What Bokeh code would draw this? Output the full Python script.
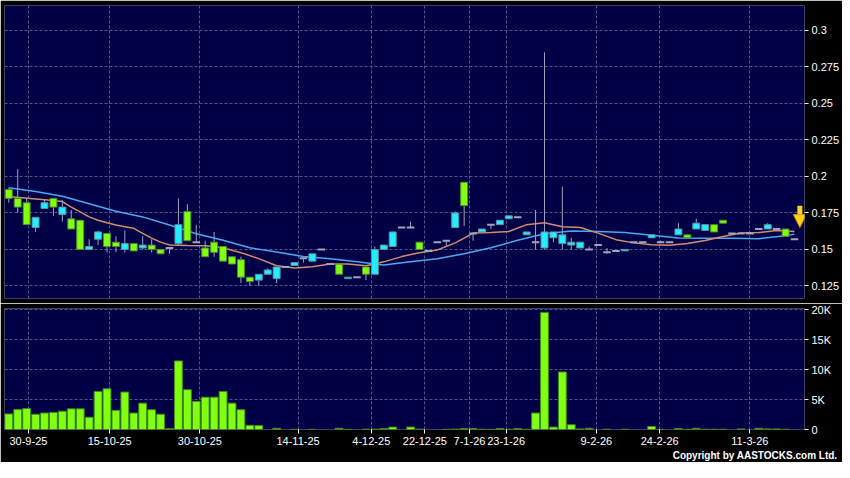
from bokeh.plotting import figure
from bokeh.layouts import column
from bokeh.models import (ColumnDataSource, FixedTicker, Range1d, Title, Arrow,
                          NormalHead, CustomJSTickFormatter)
from bokeh.embed import file_html
from bokeh.resources import INLINE

# ---------------- data ----------------
x_tick_labels = ["30-9-25", "15-10-25", "30-10-25", "14-11-25", "4-12-25", "22-12-25",
                 "7-1-26", "23-1-26", "9-2-26", "24-2-26", "11-3-26"]
x_tick_pos = [2.2, 11.3, 21.4, 32.4, 40.6, 46.6, 51.6, 55.7, 65.8, 72.9, 83.0]

price_ticks = [0.125, 0.15, 0.175, 0.2, 0.225, 0.25, 0.275, 0.3]
vol_ticks = [0, 5000, 10000, 15000, 20000]

open_ = [0.191, 0.185, 0.182, 0.165, 0.178, 0.185, 0.174, 0.171, 0.170, 0.150,
         0.157, 0.161, 0.155, 0.150, 0.154, 0.151, 0.153, 0.150, 0.151, 0.154,
         0.176, 0.155, 0.151, 0.155, 0.152, 0.145, 0.143, 0.131, 0.129, 0.133,
         0.130, 0.138, 0.139, 0.144, 0.142, 0.150, 0.140, 0.140, 0.130, 0.131,
         0.138, 0.133, 0.150, 0.152, 0.165, 0.165, 0.155, 0.149, 0.155, 0.156,
         0.165, 0.196, 0.161, 0.162, 0.167, 0.167, 0.171, 0.172, 0.160, 0.155,
         0.151, 0.158, 0.154, 0.153, 0.151, 0.150, 0.153, 0.148, 0.149, 0.149,
         0.155, 0.155, 0.158, 0.155, 0.155, 0.160, 0.160, 0.164, 0.163, 0.167,
         0.170, 0.161, 0.161, 0.161, 0.164, 0.164, 0.164, 0.164, 0.157]
high = [0.192, 0.205, 0.185, 0.172, 0.184, 0.185, 0.184, 0.177, 0.170, 0.157,
        0.163, 0.161, 0.159, 0.163, 0.154, 0.159, 0.157, 0.150, 0.151, 0.185,
        0.181, 0.167, 0.156, 0.162, 0.152, 0.145, 0.145, 0.131, 0.133, 0.137,
        0.138, 0.138, 0.141, 0.144, 0.147, 0.150, 0.140, 0.140, 0.131, 0.131,
        0.138, 0.152, 0.153, 0.162, 0.165, 0.169, 0.155, 0.149, 0.155, 0.156,
        0.176, 0.196, 0.161, 0.164, 0.167, 0.170, 0.173, 0.172, 0.162, 0.177,
        0.285, 0.162, 0.193, 0.158, 0.155, 0.152, 0.153, 0.151, 0.149, 0.150,
        0.155, 0.155, 0.160, 0.156, 0.155, 0.168, 0.160, 0.171, 0.167, 0.167,
        0.170, 0.161, 0.161, 0.161, 0.164, 0.168, 0.164, 0.164, 0.157]
low = [0.182, 0.175, 0.167, 0.162, 0.178, 0.173, 0.169, 0.164, 0.150, 0.150,
       0.153, 0.148, 0.148, 0.148, 0.149, 0.150, 0.148, 0.147, 0.147, 0.153,
       0.156, 0.155, 0.145, 0.145, 0.142, 0.140, 0.127, 0.125, 0.125, 0.133,
       0.127, 0.138, 0.139, 0.141, 0.142, 0.150, 0.140, 0.133, 0.130, 0.131,
       0.129, 0.133, 0.150, 0.152, 0.165, 0.165, 0.150, 0.149, 0.155, 0.152,
       0.165, 0.166, 0.156, 0.162, 0.164, 0.167, 0.171, 0.172, 0.160, 0.150,
       0.150, 0.155, 0.150, 0.150, 0.151, 0.150, 0.153, 0.147, 0.149, 0.149,
       0.155, 0.155, 0.158, 0.155, 0.155, 0.160, 0.158, 0.164, 0.163, 0.162,
       0.168, 0.161, 0.161, 0.161, 0.164, 0.164, 0.164, 0.159, 0.157]
close = [0.185, 0.179, 0.167, 0.172, 0.182, 0.179, 0.179, 0.164, 0.150, 0.152,
         0.162, 0.152, 0.152, 0.154, 0.149, 0.153, 0.150, 0.147, 0.151, 0.167,
         0.156, 0.155, 0.145, 0.148, 0.142, 0.140, 0.131, 0.128, 0.133, 0.136,
         0.138, 0.138, 0.141, 0.144, 0.147, 0.150, 0.140, 0.133, 0.131, 0.131,
         0.133, 0.150, 0.153, 0.162, 0.165, 0.165, 0.150, 0.149, 0.155, 0.156,
         0.175, 0.180, 0.161, 0.164, 0.167, 0.170, 0.173, 0.172, 0.162, 0.155,
         0.162, 0.162, 0.160, 0.155, 0.155, 0.150, 0.153, 0.148, 0.149, 0.150,
         0.155, 0.155, 0.160, 0.155, 0.155, 0.164, 0.158, 0.168, 0.167, 0.162,
         0.168, 0.161, 0.161, 0.161, 0.164, 0.167, 0.164, 0.159, 0.157]
volume = [2600, 3350, 3500, 2550, 2750, 2850, 3050, 3450, 3450, 2050,
          6350, 6800, 3200, 6250, 2750, 4400, 3300, 2550, 150, 11450,
          6650, 4700, 5400, 5400, 6350, 4400, 3300, 700, 650, 0,
          200, 0, 30, 0, 30, 0, 0, 200, 30, 0,
          50, 60, 150, 400, 0, 400, 60, 0, 0, 30,
          60, 150, 150, 40, 30, 150, 40, 150, 40, 2750,
          19550, 400, 9600, 800, 100, 200, 0, 50, 0, 40,
          0, 0, 500, 30, 0, 150, 40, 200, 40, 40,
          40, 0, 100, 0, 200, 100, 100, 40, 0]

ma_short_idx = [0, 3, 5, 6, 7, 8, 9, 10, 11, 12, 13, 14, 15, 16, 17, 18, 20, 22, 24, 26,
                28, 30, 32, 34, 36, 38, 40, 42, 44, 46, 48, 50, 51, 52, 54, 56, 58, 60,
                62, 64, 66, 68, 70, 72, 74, 76, 78, 80, 82, 84, 86, 88]
ma_short_val = [0.1862, 0.1846, 0.1835, 0.1828, 0.179, 0.1757, 0.1723, 0.170, 0.1683, 0.1667,
                0.1656, 0.1645, 0.161, 0.1578, 0.155, 0.153, 0.1527, 0.1525, 0.1511, 0.1478,
                0.1437, 0.1388, 0.1373, 0.1382, 0.140, 0.140, 0.1388, 0.1415, 0.1451, 0.1478,
                0.1496, 0.1545, 0.1578, 0.1612, 0.1616, 0.1623, 0.167, 0.1683, 0.1656, 0.165,
                0.1612, 0.1567, 0.1545, 0.1533, 0.1529, 0.154, 0.1562, 0.1589, 0.1612, 0.1616,
                0.1629, 0.1623]
ma_long_idx = [0, 3, 6, 9, 12, 15, 18, 21, 24, 27, 30, 33, 36, 39, 42, 45, 48, 51, 54,
               57, 60, 63, 66, 69, 72, 75, 78, 81, 84, 87, 88]
ma_long_val = [0.1922, 0.1897, 0.1864, 0.1813, 0.1761, 0.1723, 0.1667, 0.1607, 0.1563, 0.1511,
               0.1482, 0.1451, 0.1437, 0.1415, 0.1393, 0.1415, 0.1437, 0.1471, 0.1511, 0.1563,
               0.1607, 0.1627, 0.1623, 0.1616, 0.1598, 0.1578, 0.1576, 0.1576, 0.1574, 0.1594,
               0.1605]

# ---------------- styles ----------------
BG = "#000046"
GRID = "#55558c"
UP_FILL, UP_LINE = "#22eeff", "#5f8f9f"
DN_FILL, DN_LINE = "#80ff10", "#4b8a2e"
DOJI = "#a4a4b8"
WICK = "#a0a0bc"
MA_S, MA_L = "#d48c6c", "#48a8f0"
VOL_FILL, VOL_LINE = "#80ff10", "#3e8a1a"
FONT = "Liberation Sans"

n = len(close)
idx = list(range(n))
up = [i for i in idx if close[i] > open_[i]]
dn = [i for i in idx if close[i] < open_[i]]
fl = [i for i in idx if close[i] == open_[i]]

def body_src(sel):
    return ColumnDataSource(dict(
        x=[i for i in sel],
        top=[max(open_[i], close[i]) for i in sel],
        bottom=[min(open_[i], close[i]) for i in sel]))

XR = (-0.48, 89.12)
W, LB, RB = 842, 4, 35

def style_axis(a):
    a.axis_line_color = None
    a.major_tick_line_color = "white"
    a.major_tick_out = 4
    a.major_tick_in = 0
    a.minor_tick_line_color = None
    a.major_label_text_color = "white"
    a.major_label_text_font = FONT
    a.major_label_text_font_size = "11px"

def style_grid(p):
    for g in (p.xgrid, p.ygrid):
        g.grid_line_color = GRID
        g.grid_line_dash = "3 2"
        g.grid_line_width = 1

# ---------------- price panel ----------------
p1 = figure(width=W, height=303, x_range=Range1d(*XR), y_range=Range1d(0.1164, 0.3171),
            output_backend="svg", toolbar_location=None, y_axis_location="right",
            min_border_left=LB, min_border_top=5, min_border_bottom=5, min_border_right=RB)
p1.background_fill_color = BG
p1.border_fill_color = "black"
p1.outline_line_color = None
p1.xaxis.visible = False
p1.xgrid.ticker = FixedTicker(ticks=x_tick_pos)
p1.yaxis.ticker = FixedTicker(ticks=price_ticks)
p1.yaxis.formatter = CustomJSTickFormatter(code="return String(parseFloat(tick.toFixed(3)));")
style_grid(p1)
style_axis(p1.yaxis[0])
p1.yaxis.major_label_standoff = 3

p1.line(ma_long_idx, ma_long_val, line_color=MA_L, line_width=1.5)
p1.line(ma_short_idx, ma_short_val, line_color=MA_S, line_width=1.5)

p1.segment(x0=idx, y0=high, x1=idx, y1=low, line_color=WICK, line_width=1)
p1.vbar(x="x", top="top", bottom="bottom", width=0.78, source=body_src(up),
        fill_color=UP_FILL, line_color=UP_LINE, line_width=1)
p1.vbar(x="x", top="top", bottom="bottom", width=0.78, source=body_src(dn),
        fill_color=DN_FILL, line_color=DN_LINE, line_width=1)
p1.segment(x0=[i - 0.42 for i in fl], y0=[close[i] for i in fl],
           x1=[i + 0.42 for i in fl], y1=[close[i] for i in fl],
           line_color=DOJI, line_width=2)

# marker arrow pointing at latest session
ax = n - 1 + 0.6
p1.add_layout(Arrow(end=NormalHead(size=13, fill_color="#ffd21e", line_color="#d88a00", line_width=1),
                    x_start=ax, y_start=max(high[-3:]) + 0.016, x_end=ax, y_end=max(high[-3:]) + 0.0010,
                    line_color="#ffd21e", line_width=5))

# ---------------- volume panel ----------------
p2 = figure(width=W, height=159, x_range=p1.x_range, y_range=Range1d(0, 20200),
            output_backend="svg", toolbar_location=None, y_axis_location="right",
            min_border_left=LB, min_border_top=5, min_border_bottom=33, min_border_right=RB)
p2.background_fill_color = BG
p2.border_fill_color = "black"
p2.outline_line_color = None
vi = [i for i in idx if volume[i] > 0]
p2.vbar(x=vi, top=[volume[i] for i in vi], bottom=0, width=0.88,
        fill_color=VOL_FILL, line_color=VOL_LINE, line_width=1)

p2.xaxis.ticker = FixedTicker(ticks=x_tick_pos)
p2.xaxis.major_label_overrides = {pos: lab for pos, lab in zip(x_tick_pos, x_tick_labels)}
p2.yaxis.ticker = FixedTicker(ticks=vol_ticks)
p2.yaxis.formatter = CustomJSTickFormatter(code="return tick == 0 ? '0' : (tick/1000) + 'K';")
style_grid(p2)
style_axis(p2.xaxis[0])
style_axis(p2.yaxis[0])
p2.yaxis.major_label_standoff = 3
p2.xaxis.major_label_standoff = 3

p2.add_layout(Title(text="Copyright by AASTOCKS.com Ltd.", align="right", offset=-33, standoff=0,
                    text_color="white", text_font=FONT, text_font_size="10px",
                    text_font_style="bold"), "below")

layout = column(p1, p2, spacing=0)
open("out.html", "w").write(file_html(layout, INLINE))
